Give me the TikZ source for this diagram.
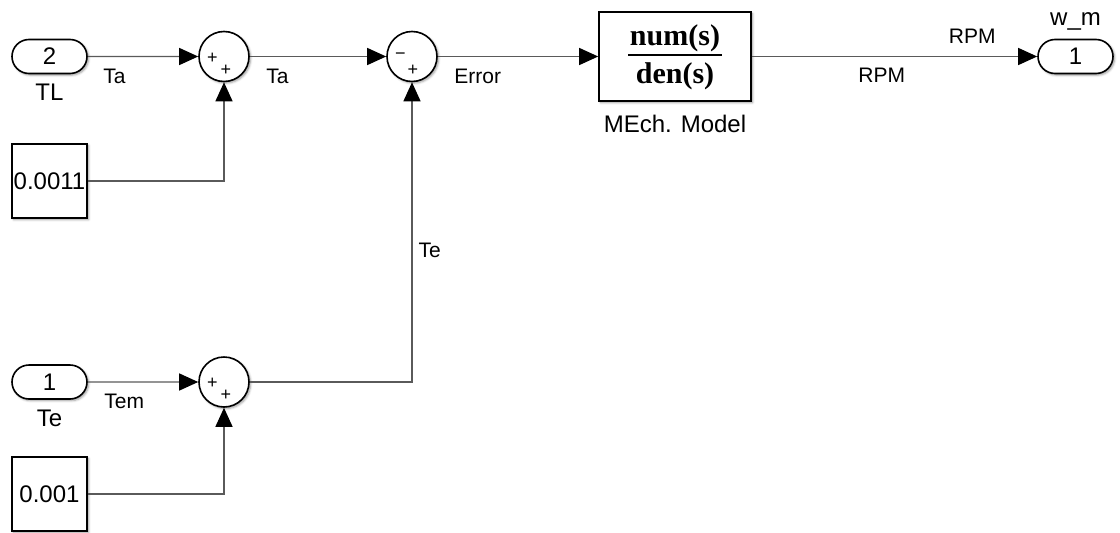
\documentclass[tikz,border=0pt]{standalone}
\usepackage{fontspec}
\setmainfont{Liberation Sans}
\newfontfamily\tfserif{Liberation Serif}
\usetikzlibrary{arrows.meta, positioning, shapes.misc, calc, shadows.blur}
\definecolor{sline}{HTML}{5A5A5A}
\tikzset{
  every picture/.style={line width=1.3pt},
  blk/.style={draw=black, fill=white, line width=1.6pt, inner sep=0pt,
    blur shadow={shadow xshift=1.6pt, shadow yshift=-1.6pt, shadow blur radius=2.2pt, shadow opacity=40}},
  portblk/.style={blk, rounded rectangle, minimum width=75pt, minimum height=34pt, font=\fontsize{24}{28}\selectfont},
  constblk/.style={blk, minimum width=75pt, minimum height=74pt, font=\fontsize{24}{28}\selectfont},
  sumblk/.style={blk, circle, minimum size=50pt},
  sgn/.style={inner sep=0pt, font=\fontsize{18}{20}\selectfont},
  frac/.style={inner sep=0pt, font=\tfserif\bfseries\fontsize{30}{34}\selectfont},
  sig/.style={draw=sline, line width=1.3pt, -{Triangle[length=19pt, width=17pt, color=black]}},
  sigtxt/.style={inner sep=0pt, font=\fontsize{21}{25}\selectfont},
  blkname/.style={inner sep=0pt, font=\fontsize{24}{28}\selectfont},
}

\begin{document}
\begin{tikzpicture}[x=1pt, y=-1pt]
  \useasboundingbox (0,0) rectangle (1120,533);
  % blocks
  \node[portblk] (tl) at (49.5,56.5) {2};
  \node[constblk] (c1) at (49.5,181) {0.0011};
  \node[sumblk] (s1) at (224,56.5) {};
  \node[sumblk] (s2) at (412,56.5) {};
  \node[blk, minimum width=152pt, minimum height=89pt] (tf) at (675,56.5) {};
  \node[portblk] (wm) at (1075.5,56.5) {1};
  \node[portblk] (tem) at (49.5,382) {1};
  \node[constblk] (c2) at (49.5,494) {0.001};
  \node[sumblk] (s3) at (224,382) {};

  % block names
  \node[blkname, below=9pt of tl] (tlname) {TL};
  \node[blkname, below=10pt of tem] (tename) {Te};
  \node[blkname, below=13pt of tf] (tfname) {MEch. Model};
  \node[blkname, above=8pt of wm] (wmname) {w\_m};

  % signs of the sums
  \foreach \s in {s1, s3} {
    \node[sgn] (\s-a) at ($(\s)+(-11.5,1.5)$) {+};
    \node[sgn] (\s-b) at ($(\s)+(2,13.5)$) {+};
  }
  \node[sgn] (s2-a) at ($(s2)+(-11.5,0)$) {−};
  \node[sgn] (s2-b) at ($(s2)+(1,14)$) {+};

  % transfer function
  \node[frac, anchor=base] (num) at (675,45) {num(s)};
  \node[frac, anchor=base] (den) at (675,83) {den(s)};
  \draw[line width=2.2pt] ($(tf.center)+(-47,-1.5)$) -- ($(tf.center)+(47,-1.5)$);

  % signals
  \draw[sig] (tl) -- node[sigtxt, pos=0, anchor=north west, xshift=15pt, yshift=-11.5pt] (tasig) {Ta} (s1);
  \draw[sig] (c1) -| (s1);
  \draw[sig] (s1) -- node[sigtxt, pos=0, anchor=north west, xshift=16pt, yshift=-11.5pt] (tasum) {Ta} (s2);
  \draw[sig] (s2) -- node[sigtxt, pos=0, anchor=north west, xshift=16pt, yshift=-11.5pt] (err) {Error} (tf);
  \draw[sig] (tf) -- node[sigtxt, pos=0, anchor=north west, xshift=106pt, yshift=-10.5pt] (rpmlo) {RPM}
    node[sigtxt, pos=1, anchor=south east, xshift=-41pt, yshift=12.5pt] (rpmhi) {RPM} (wm);
  \draw[sig] (tem) -- node[sigtxt, pos=0, anchor=north west, xshift=16pt, yshift=-11pt] (temsig) {Tem} (s3);
  \draw[sig] (c2) -| (s3);
  \draw[sig] (s3) -| node[sigtxt, pos=0.72, anchor=west, xshift=6pt] (tesig) {Te} (s2);
\end{tikzpicture}
\end{document}
